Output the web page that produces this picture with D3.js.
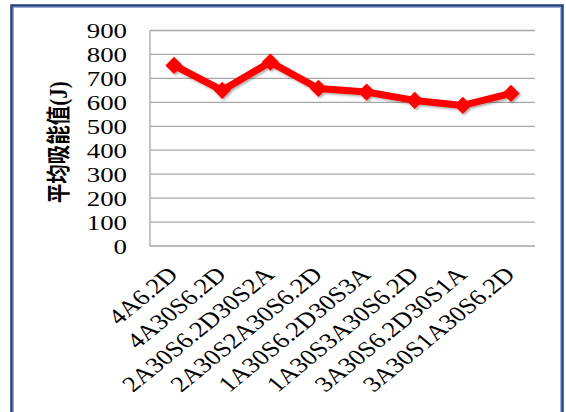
<!DOCTYPE html>
<html>
<head>
<meta charset="utf-8">
<script src="https://cdn.jsdelivr.net/npm/d3@7"></script>
<style>
  html, body { margin: 0; padding: 0; background: #fff; }
  svg { display: block; }
</style>
</head>
<body>
<svg id="chart" width="566" height="412"></svg>
<script>
// Sample designations and their mean absorbed energy (J)
const categories = ["4A6.2D", "4A30S6.2D", "2A30S6.2D30S2A", "2A30S2A30S6.2D",
                    "1A30S6.2D30S3A", "1A30S3A30S6.2D", "3A30S6.2D30S1A", "3A30S1A30S6.2D"];
const energy = [754, 650, 768, 658, 643, 608, 587, 637];
const yTicks = [0, 100, 200, 300, 400, 500, 600, 700, 800, 900];
const yTitleCjk = "平均吸能值";
const yTitleUnit = "(J)";

const svg = d3.select("#chart");
const m = { left: 150, right: 535, top: 30.5, bottom: 246 };
const serif = "'Liberation Serif', 'Times New Roman', serif";
const stretch = 1.22;   // labels are drawn slightly wide

const x = d3.scalePoint().domain(categories).range([m.left, m.right]).padding(0.5);
const y = d3.scaleLinear().domain([0, 900]).range([m.bottom, m.top]);

// soft shadow under the series
const defs = svg.append("defs");
const f = defs.append("filter").attr("id", "shadow")
  .attr("x", "-10%").attr("y", "-30%").attr("width", "130%").attr("height", "180%");
f.append("feDropShadow").attr("dx", 1.5).attr("dy", 1.5).attr("stdDeviation", 1.2)
  .attr("flood-color", "#000").attr("flood-opacity", 0.35);

// outer frame
svg.append("rect").attr("x", 11.5).attr("y", 5.5).attr("width", 551).attr("height", 420)
  .attr("fill", "#fff").attr("stroke", "#23407f").attr("stroke-width", 2.5);
svg.append("rect").attr("x", 13.5).attr("y", 7.5).attr("width", 547).attr("height", 416)
  .attr("fill", "none").attr("stroke", "#7d97cc").attr("stroke-width", 0.8);

// horizontal gridlines
svg.append("g").selectAll("line").data(yTicks.filter(d => d > 0)).join("line")
  .attr("x1", m.left).attr("x2", m.right)
  .attr("y1", d => y(d)).attr("y2", d => y(d))
  .attr("stroke", "#a6a6a6").attr("stroke-width", 1.3);

// axis lines
svg.append("line").attr("x1", m.left).attr("x2", m.left).attr("y1", m.top).attr("y2", m.bottom)
  .attr("stroke", "#a6a6a6").attr("stroke-width", 1.3);
svg.append("line").attr("x1", m.left).attr("x2", m.right).attr("y1", m.bottom).attr("y2", m.bottom)
  .attr("stroke", "#a6a6a6").attr("stroke-width", 1.3);

// y tick labels
const yAxis = d3.axisLeft(y).tickValues(yTicks).tickSize(0).tickPadding(0);
const gy = svg.append("g").attr("transform", `translate(${m.left},0)`).call(yAxis);
gy.select(".domain").remove();
gy.attr("font-family", serif);
gy.selectAll("text")
  .attr("font-family", serif)
  .attr("font-size", 22).attr("fill", "#000")
  .attr("x", 0).attr("dy", "0.33em")
  .attr("text-anchor", "end")
  .attr("transform", `translate(-23,0) scale(${stretch},1)`);

// x tick labels, rotated
const xAxis = d3.axisBottom(x).tickSize(0).tickPadding(0);
const gx = svg.append("g").attr("transform", `translate(0,${m.bottom})`).call(xAxis);
gx.select(".domain").remove();
gx.attr("font-family", serif);
gx.selectAll("text")
  .attr("font-family", serif)
  .attr("font-size", 22).attr("fill", "#000")
  .attr("text-anchor", "end")
  .attr("y", 0).attr("dy", null)
  .attr("transform", `translate(5,30) scale(${stretch},1) rotate(-45)`);

// y axis title
const title = svg.append("text")
  .attr("transform", `translate(67,${(m.top + m.bottom) / 2 + 4}) scale(${stretch},1) rotate(-90)`)
  .attr("text-anchor", "middle")
  .attr("font-size", 19.5).attr("fill", "#000");
title.append("tspan").attr("font-family", "'Noto Sans CJK SC', sans-serif")
  .attr("font-weight", "bold").text(yTitleCjk);
title.append("tspan").attr("font-family", serif).attr("font-weight", "bold")
  .attr("font-size", 21).text(yTitleUnit);

// series line and diamond markers
const series = svg.append("g").attr("filter", "url(#shadow)");
const line = d3.line().x((d, i) => x(categories[i])).y(d => y(d));
series.append("path").datum(energy).attr("d", line)
  .attr("fill", "none").attr("stroke", "#ff0000").attr("stroke-width", 7)
  .attr("stroke-linejoin", "round");
series.selectAll("path.mk").data(energy).join("path").attr("class", "mk")
  .attr("d", d3.symbol().type(d3.symbolDiamond2).size(190))
  .attr("transform", (d, i) => `translate(${x(categories[i])},${y(d)})`)
  .attr("fill", "#ff0000");
</script>
</body>
</html>
